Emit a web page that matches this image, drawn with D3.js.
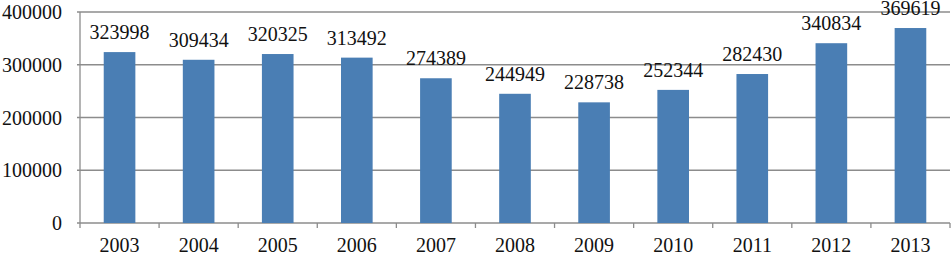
<!doctype html>
<html>
<head>
<script src="https://d3js.org/d3.v7.min.js"></script>
<style>
  body { margin: 0; background: #fff; }
  svg { display: block; }
</style>
</head>
<body>
<svg width="951" height="254" id="chart"></svg>
<script>
// data
var years = ["2003", "2004", "2005", "2006", "2007", "2008", "2009", "2010", "2011", "2012", "2013"];
var counts = [323998, 309434, 320325, 313492, 274389, 244949, 228738, 252344, 282430, 340834, 369619];
var yTicks = [0, 100000, 200000, 300000, 400000];

var svg = d3.select("#chart"),
    plotLeft = 80, plotRight = 950,
    plotTop = 12, plotBottom = 223;

var xScale = d3.scaleBand().domain(years).range([plotLeft, plotRight]).paddingInner(0.6).paddingOuter(0.3),
    yScale = d3.scaleLinear().domain([0, 400000]).range([plotBottom, plotTop]);

var font = "'Liberation Serif', 'Times New Roman', serif";

// gridlines
svg.append("g")
  .selectAll("line")
  .data(yTicks)
  .enter()
  .append("line")
  .attr("x1", plotLeft - 3)
  .attr("x2", plotRight)
  .attr("y1", function (d) { return yScale(d); })
  .attr("y2", function (d) { return yScale(d); })
  .style("stroke", "#8c8c8c")
  .style("stroke-width", 1.3);

// y labels
svg.append("g")
  .selectAll("text")
  .data(yTicks)
  .enter()
  .append("text")
  .attr("x", 62)
  .attr("y", function (d) { return yScale(d); })
  .attr("dy", "0.35em")
  .attr("text-anchor", "end")
  .style("font-family", font)
  .style("font-size", "20px")
  .style("fill", "#111")
  .text(function (d) { return d; });

// y axis line
svg.append("line")
  .attr("x1", plotLeft).attr("x2", plotLeft)
  .attr("y1", plotTop).attr("y2", plotBottom + 5)
  .style("stroke", "#8c8c8c")
  .style("stroke-width", 1.3);

// bars
svg.append("g")
  .selectAll("rect")
  .data(counts)
  .enter()
  .append("rect")
  .attr("x", function (d, i) { return xScale(years[i]); })
  .attr("y", function (d) { return yScale(d); })
  .attr("width", xScale.bandwidth())
  .attr("height", function (d) { return yScale(0) - yScale(d); })
  .style("fill", "#4a7eb4");

// x ticks at category boundaries
var step = xScale.step();
svg.append("g")
  .selectAll("line")
  .data(years)
  .enter()
  .append("line")
  .attr("x1", function (d) { return xScale(d) - xScale.paddingOuter() * step + step; })
  .attr("x2", function (d) { return xScale(d) - xScale.paddingOuter() * step + step; })
  .attr("y1", plotBottom)
  .attr("y2", plotBottom + 5)
  .style("stroke", "#8c8c8c")
  .style("stroke-width", 1.3);

// x labels
svg.append("g")
  .selectAll("text")
  .data(years)
  .enter()
  .append("text")
  .attr("x", function (d) { return xScale(d) + xScale.bandwidth() / 2; })
  .attr("y", 252)
  .attr("text-anchor", "middle")
  .style("font-family", font)
  .style("font-size", "20px")
  .style("fill", "#111")
  .text(function (d) { return d; });

// value labels
svg.append("g")
  .selectAll("text")
  .data(counts)
  .enter()
  .append("text")
  .attr("x", function (d, i) { return xScale(years[i]) + xScale.bandwidth() / 2; })
  .attr("y", function (d) { return yScale(d) - 13; })
  .attr("text-anchor", "middle")
  .style("font-family", font)
  .style("font-size", "20px")
  .style("fill", "#111")
  .text(function (d) { return d; });
</script>
</body>
</html>
